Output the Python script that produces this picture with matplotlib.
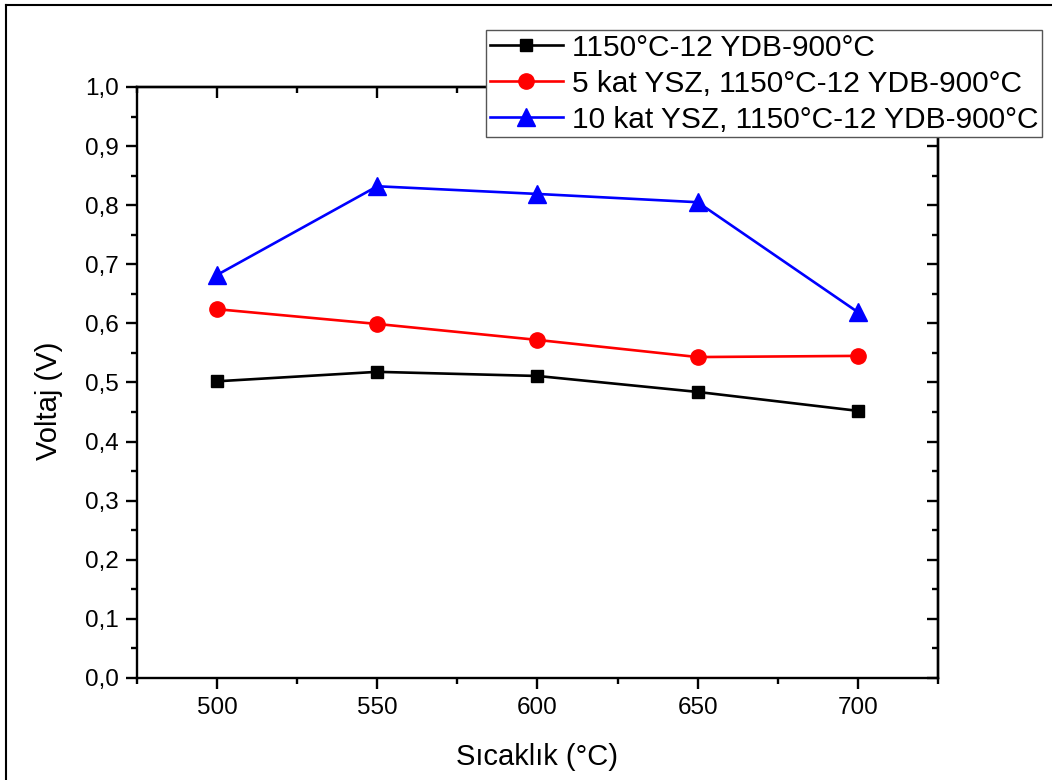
import numpy as np
import matplotlib.pyplot as plt
from matplotlib.lines import Line2D
from matplotlib.ticker import MultipleLocator, FuncFormatter

plt.rcParams['font.family'] = ['Liberation Sans', 'DejaVu Sans']

# Data
temps = [500, 550, 600, 650, 700]
v_base = [0.502, 0.518, 0.511, 0.484, 0.452]
v_5kat = [0.624, 0.599, 0.572, 0.543, 0.545]
v_10kat = [0.682, 0.832, 0.819, 0.805, 0.619]
labels = ['1150°C-12 YDB-900°C',
          '5 kat YSZ, 1150°C-12 YDB-900°C',
          '10 kat YSZ, 1150°C-12 YDB-900°C']

fig = plt.figure(figsize=(10.52, 7.8), dpi=100)
ax = fig.add_axes([0.1302, 0.1308, 0.7614, 0.7577])

ax.plot(temps, v_base, color='black', lw=1.9, marker='s', ms=9, label=labels[0])
ax.plot(temps, v_5kat, color='red', lw=1.9, marker='o', ms=11, label=labels[1])
ax.plot(temps, v_10kat, color='blue', lw=1.9, marker='^', ms=12.5, label=labels[2])

ax.set_xlim(475, 725)
ax.set_ylim(0, 1.0)
ax.xaxis.set_major_locator(MultipleLocator(50))
ax.xaxis.set_minor_locator(MultipleLocator(25))
ax.yaxis.set_major_locator(MultipleLocator(0.1))
ax.yaxis.set_minor_locator(MultipleLocator(0.05))
ax.yaxis.set_major_formatter(FuncFormatter(lambda v, p: f'{v:.1f}'.replace('.', ',')))

for s in ax.spines.values():
    s.set_linewidth(1.7)

ax.tick_params(which='both', labelsize=17.5, width=1.7, direction='out',
               top=False, right=False)
ax.tick_params(which='major', length=8)
ax.tick_params(which='minor', length=4.5)
ax.tick_params(axis='x', which='major', pad=6)
ax.tick_params(axis='y', which='major', pad=5)

# top and right ticks point inward
ax2x = ax.secondary_xaxis('top')
ax2x.xaxis.set_major_locator(MultipleLocator(50))
ax2x.xaxis.set_minor_locator(MultipleLocator(25))
ax2x.tick_params(which='both', direction='in', labeltop=False, width=1.7)
ax2x.tick_params(which='major', length=8)
ax2x.tick_params(which='minor', length=4.5)
ax2x.spines['top'].set_linewidth(1.7)
ax2y = ax.secondary_yaxis('right')
ax2y.yaxis.set_major_locator(MultipleLocator(0.1))
ax2y.yaxis.set_minor_locator(MultipleLocator(0.05))
ax2y.tick_params(which='both', direction='in', labelright=False, width=1.7)
ax2y.tick_params(which='major', length=8)
ax2y.tick_params(which='minor', length=4.5)
ax2y.spines['right'].set_linewidth(1.7)

xl = ax.set_xlabel('Sıcaklık (°C)', fontsize=21)
xl.set_va('center')
ax.xaxis.set_label_coords(0.5, -0.134)
yl = ax.set_ylabel('Voltaj (V)', fontsize=21)
yl.set_va('center')
ax.yaxis.set_label_coords(-0.11, 0.469)

leg = ax.legend(loc='upper right', bbox_to_anchor=(0.9905, 0.9615),
                bbox_transform=fig.transFigure, fontsize=21.5, frameon=True,
                fancybox=False, edgecolor='#555555', framealpha=1,
                borderpad=0.12, labelspacing=0.27, handlelength=2.45,
                handletextpad=0.3, borderaxespad=0)
leg.get_frame().set_linewidth(1.0)

# figure border (top and left edges)
fig.add_artist(Line2D([0.0057, 1.0], [0.9935, 0.9935], color='black', lw=1.5,
                      transform=fig.transFigure))
fig.add_artist(Line2D([0.0057, 0.0057], [0.0, 0.9935], color='black', lw=1.5,
                      transform=fig.transFigure))

fig.savefig('out.png', dpi=100)
